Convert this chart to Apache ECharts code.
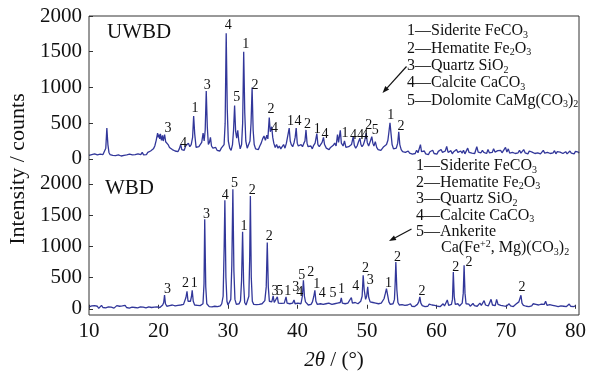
<!DOCTYPE html>
<html><head><meta charset="utf-8">
<script src="https://cdn.jsdelivr.net/npm/echarts@6/dist/echarts.min.js"></script>
<style>html,body{margin:0;padding:0;background:#fff}#c{width:589px;height:376px}</style>
</head><body><div id="c"></div>
<script>
// ---- DATA ----
const angleMin = 10, angleMax = 80, angleStep = 10;
const yTicks = [0, 500, 1000, 1500, 2000];

const uwbd = [
[10.0,50],[10.2,35],[10.4,60],[10.6,40],[10.8,70],[11.0,45],[11.2,55],[11.4,30],[11.6,65],[11.8,50],[12.0,60],[12.2,75],[12.4,150],[12.55,430],[12.7,200],[12.85,90],[13.0,60],[13.2,80],[13.4,50],[13.6,70],[13.8,45],[14.0,65],[14.2,55],[14.4,75],[14.6,40],[14.8,60],[15.0,50],[15.2,35],[15.4,55],[15.6,45],[15.8,65],[16.0,40],[16.2,55],[16.4,30],[16.6,60],[16.8,50],[17.0,70],[17.2,45],[17.4,60],[17.6,90],[17.8,55],[18.0,75],[18.2,60],[18.4,90],[18.6,70],[18.8,110],[19.0,100],[19.2,140],[19.4,180],[19.6,260],[19.8,360],[19.9,300],[20.0,340],[20.1,280],[20.2,350],[20.35,260],[20.5,330],[20.6,250],[20.8,340],[20.95,240],[21.1,220],[21.3,200],[21.5,160],[21.7,180],[21.9,130],[22.1,150],[22.3,110],[22.5,130],[22.7,100],[22.9,140],[23.1,200],[23.25,130],[23.4,150],[23.6,120],[23.8,180],[24.0,160],[24.2,220],[24.4,170],[24.6,200],[24.8,300],[24.95,600],[25.1,350],[25.3,160],[25.5,140],[25.7,170],[25.9,150],[26.1,230],[26.3,360],[26.45,250],[26.6,400],[26.75,950],[26.9,450],[27.05,200],[27.2,230],[27.35,300],[27.5,180],[27.7,150],[27.9,130],[28.1,160],[28.3,120],[28.5,140],[28.7,110],[28.9,150],[29.1,130],[29.3,200],[29.45,500],[29.6,1760],[29.75,700],[29.9,250],[30.1,150],[30.3,120],[30.5,200],[30.65,400],[30.8,745],[30.95,380],[31.1,290],[31.25,400],[31.4,250],[31.6,140],[31.8,200],[31.95,500],[32.1,1500],[32.25,650],[32.4,250],[32.6,150],[32.8,170],[33.0,250],[33.15,500],[33.3,1000],[33.45,400],[33.6,200],[33.8,140],[34.0,160],[34.2,130],[34.4,180],[34.6,220],[34.8,280],[35.0,320],[35.2,260],[35.4,330],[35.55,280],[35.75,580],[35.9,380],[36.1,450],[36.25,300],[36.4,220],[36.6,160],[36.8,200],[37.0,150],[37.2,180],[37.4,140],[37.6,170],[37.8,200],[38.0,150],[38.2,220],[38.4,200],[38.6,430],[38.75,250],[38.9,200],[39.1,170],[39.3,230],[39.45,300],[39.6,430],[39.75,220],[39.9,180],[40.1,160],[40.3,200],[40.5,170],[40.7,220],[40.85,250],[41.0,405],[41.15,220],[41.3,170],[41.5,150],[41.7,180],[41.9,140],[42.1,190],[42.3,220],[42.55,355],[42.7,200],[42.9,170],[43.1,190],[43.3,230],[43.5,300],[43.65,200],[43.9,150],[44.1,170],[44.3,130],[44.5,160],[44.7,140],[44.9,190],[45.1,220],[45.3,180],[45.5,340],[45.65,230],[45.9,400],[46.05,220],[46.3,180],[46.5,250],[46.7,160],[46.9,140],[47.1,170],[47.3,150],[47.5,200],[47.75,310],[47.9,190],[48.1,150],[48.3,180],[48.5,240],[48.7,290],[48.85,200],[49.0,170],[49.2,200],[49.4,260],[49.6,360],[49.75,230],[49.95,180],[50.2,250],[50.4,310],[50.55,220],[50.7,180],[50.9,240],[51.1,160],[51.3,130],[51.5,150],[51.7,120],[51.9,140],[52.1,170],[52.3,150],[52.5,200],[52.7,260],[52.85,380],[53.0,505],[53.15,350],[53.3,200],[53.5,140],[53.7,120],[53.9,150],[54.1,220],[54.25,380],[54.4,200],[54.6,130],[54.8,100],[55.0,120],
[55.2,90],[55.4,70],[55.6,110],[55.8,80],[56.0,100],[56.2,65],[56.4,90],[56.6,75],[56.8,120],[57.0,85],[57.2,110],[57.35,200],[57.5,100],[57.7,80],[57.9,110],[58.1,70],[58.3,95],[58.5,60],[58.7,100],[58.9,80],[59.1,120],[59.3,75],[59.5,95],[59.7,65],[59.9,105],[60.1,80],[60.3,130],[60.5,90],[60.7,70],[60.9,110],[61.1,175],[61.3,90],[61.5,80],[61.7,115],[61.9,70],[62.1,100],[62.3,85],[62.5,130],[62.7,90],[62.9,75],[63.1,110],[63.3,80],[63.5,120],[63.7,70],[63.9,95],[64.1,150],[64.3,90],[64.5,110],[64.7,80],[64.9,100],[65.1,75],[65.4,170],[65.6,95],[65.8,110],[66.0,85],[66.2,120],[66.4,90],[66.6,105],[66.8,75],[67.0,130],[67.2,85],[67.4,110],[67.6,90],[67.8,140],[68.0,95],[68.2,80],[68.4,115],[68.6,90],[68.8,120],[69.0,85],[69.2,100],[69.5,160],[69.7,95],[69.9,140],[70.1,80],[70.3,105],[70.5,90],[70.7,115],[70.9,75],[71.1,100],[71.3,85],[71.5,120],[71.7,80],[71.9,95],[72.1,130],[72.3,85],[72.5,100],[72.7,70],[72.9,110],[73.1,85],[73.3,95],[73.5,120],[73.7,75],[73.9,100],[74.1,85],[74.3,110],[74.5,70],[74.7,95],[74.9,120],[75.1,80],[75.3,100],[75.5,90],[75.7,110],[75.9,75],[76.1,95],[76.3,85],[76.5,115],[76.7,70],[76.9,100],[77.1,80],[77.3,95],[77.5,110],[77.7,75],[77.9,90],[78.1,100],[78.3,70],[78.5,85],[78.7,110],[78.9,80],[79.1,95],[79.3,70],[79.5,105],[79.7,85],[79.9,95],[80.0,80]
];

const wbd = [
[10.0,30],[10.2,10],[10.4,45],[10.6,20],[10.8,50],[11.0,25],[11.2,40],[11.4,5],[11.6,35],[11.8,55],[12.0,20],[12.2,40],[12.4,15],[12.6,45],[12.8,30],[13.0,60],[13.2,25],[13.4,40],[13.6,10],[13.8,35],[14.0,50],[14.2,20],[14.4,40],[14.6,15],[14.8,45],[15.0,30],[15.2,55],[15.4,20],[15.6,35],[15.8,10],[16.0,40],[16.2,25],[16.4,50],[16.6,20],[16.8,35],[17.0,15],[17.2,45],[17.4,30],[17.6,55],[17.8,25],[18.0,40],[18.2,15],[18.4,45],[18.6,30],[18.8,50],[19.0,20],[19.2,40],[19.4,25],[19.6,55],[19.8,30],[20.0,45],[20.2,20],[20.4,40],[20.6,60],[20.75,100],[20.87,220],[21.0,80],[21.2,40],[21.4,25],[21.6,50],[21.8,30],[22.0,60],[22.2,35],[22.4,45],[22.6,25],[22.8,55],[23.0,40],[23.2,60],[23.4,35],[23.6,70],[23.8,90],[23.95,180],[24.1,280],[24.25,120],[24.45,90],[24.6,120],[24.75,200],[24.85,295],[25.0,120],[25.2,60],[25.4,40],[25.6,55],[25.8,30],[26.0,50],[26.2,40],[26.4,80],[26.55,400],[26.65,1430],[26.8,350],[26.95,80],[27.1,50],[27.3,35],[27.5,60],[27.7,30],[27.9,50],[28.1,40],[28.3,65],[28.5,35],[28.7,55],[28.9,45],[29.1,80],[29.3,200],[29.45,1000],[29.55,1735],[29.7,500],[29.85,120],[30.0,60],[30.2,70],[30.4,150],[30.55,700],[30.7,1910],[30.85,600],[31.0,150],[31.2,70],[31.4,50],[31.6,80],[31.8,130],[31.95,450],[32.1,1230],[32.25,400],[32.4,100],[32.6,60],[32.8,80],[33.0,200],[33.12,800],[33.22,1805],[33.35,500],[33.5,120],[33.7,70],[33.9,50],[34.1,65],[34.3,45],[34.5,70],[34.7,55],[34.9,80],[35.1,100],[35.3,130],[35.5,350],[35.65,1058],[35.8,350],[35.95,120],[36.1,90],[36.3,110],[36.5,205],[36.65,100],[36.85,80],[37.1,190],[37.25,90],[37.45,60],[37.65,85],[37.85,60],[38.1,90],[38.35,190],[38.5,90],[38.7,60],[38.9,80],[39.1,60],[39.3,90],[39.5,140],[39.65,80],[39.85,60],[40.05,90],[40.3,120],[40.5,80],[40.7,200],[40.85,456],[41.0,200],[41.15,110],[41.35,80],[41.55,60],[41.75,90],[41.95,70],[42.15,110],[42.35,200],[42.5,296],[42.65,120],[42.85,70],[43.05,90],[43.3,80],[43.5,110],[43.7,70],[43.9,50],[44.1,80],[44.3,60],[44.5,90],[44.75,110],[44.95,70],[45.15,55],[45.35,80],[45.55,60],[45.75,90],[45.95,70],[46.15,100],[46.3,175],[46.45,90],[46.65,60],[46.85,80],[47.05,55],[47.25,90],[47.5,110],[47.75,180],[47.9,90],[48.1,70],[48.3,100],[48.5,130],[48.7,80],[48.9,100],[49.1,120],[49.3,200],[49.45,536],[49.6,300],[49.8,150],[49.95,200],[50.1,349],[50.25,180],[50.45,110],[50.65,80],[50.85,100],[51.05,70],[51.25,90],[51.45,60],[51.65,80],[51.85,55],[52.05,90],[52.25,110],[52.45,160],[52.65,250],[52.8,323],[52.95,230],[53.15,110],[53.35,70],[53.55,60],[53.75,80],[53.95,150],[54.05,400],[54.15,749],[54.3,300],[54.45,100],[54.65,60],[54.85,40],[55.05,65],[55.25,35],[55.45,55],[55.65,30],[55.85,60],[56.05,45],[56.25,80],[56.45,40],[56.65,60],[56.85,35],[57.05,55],[57.25,70],[57.45,110],[57.6,189],[57.75,90],[57.95,50],[58.15,70],[58.35,35],[58.55,55],[58.75,40],[58.95,75],[59.15,45],[59.35,60],[59.55,30],[59.75,55],[59.95,70],[60.15,40],[60.35,65],[60.55,35],[60.75,55],[60.95,80],[61.15,45],[61.35,60],[61.55,140],[61.75,55],[61.95,40],[62.15,70],[62.3,150],[62.42,589],[62.55,200],[62.7,70],[62.9,50],[63.1,80],[63.3,45],[63.5,65],[63.7,90],[63.85,250],[63.97,696],[64.1,250],[64.25,80],[64.45,50],[64.65,75],[64.85,40],[65.05,60],[65.25,85],[65.45,50],[65.65,70],[65.85,40],[66.05,65],[66.25,90],[66.45,55],[66.65,75],[66.85,130],[67.05,60],[67.25,80],[67.45,45],[67.65,70],[67.85,150],[68.05,60],[68.25,85],[68.45,50],[68.65,150],[68.85,70],[69.05,90],[69.25,55],[69.45,75],[69.65,45],[69.85,65],[70.05,40],[70.25,60],[70.45,80],[70.65,45],[70.85,65],[71.05,35],[71.25,55],[71.45,75],[71.65,90],[71.85,110],[72.0,140],[72.15,216],[72.3,90],[72.5,55],[72.7,70],[72.9,40],[73.1,60],[73.3,35],[73.5,65],[73.7,45],[73.9,80],[74.1,50],[74.3,70],[74.5,40],[74.7,60],[74.9,35],[75.1,75],[75.3,50],[75.5,70],[75.7,120],[75.9,55],[76.1,40],[76.3,65],[76.5,35],[76.7,55],[76.9,75],[77.1,45],[77.3,60],[77.5,35],[77.7,65],[77.9,45],[78.1,70],[78.3,40],[78.5,60],[78.7,35],[78.9,55],[79.1,75],[79.3,40],[79.5,60],[79.7,35],[79.9,55],[80.0,45]
];

const uwbdPeakLabels = [
[21.3,429,'3'],[23.5,219,'4'],[25.14,709,'1'],[26.9,1035,'3'],[29.9,1874,'4'],[31.1,863,'5'],[32.4,1604,'1'],[33.7,1035,'2'],[36.0,695,'2'],[36.5,429,'4'],[38.8,522,'1'],[39.86,522,'4'],[41.2,490,'2'],[42.6,420,'1'],[43.7,350,'4'],[46.57,359,'1'],[47.8,336,'4'],[48.8,336,'4'],[49.4,330,'4'],[49.95,476,'2'],[50.9,400,'5'],[53.1,615,'1'],[54.57,462,'2']
];
const wbdPeakLabels = [
[21.29,312,'3'],[23.9,403,'2'],[25.14,403,'1'],[26.9,1507,'3'],[29.6,1816,'4'],[30.95,2003,'5'],[32.3,1325,'1'],[33.5,1896,'2'],[35.95,1160,'2'],[36.76,280,'3'],[37.43,280,'5'],[38.6,280,'1'],[39.76,349,'3'],[40.33,259,'4'],[40.6,536,'5'],[41.9,579,'2'],[42.76,392,'1'],[43.57,243,'4'],[45.1,243,'5'],[46.33,312,'1'],[48.38,365,'4'],[49.8,643,'2'],[50.47,456,'3'],[53.1,403,'1'],[54.4,819,'2'],[57.9,285,'2'],[62.76,669,'2'],[64.67,749,'2'],[72.3,339,'2']
];

const sampleNames = ['UWBD', 'WBD'];
const legendUWBD = ['1—Siderite FeCO{s|3}', '2—Hematite Fe{s|2}O{s|3}', '3—Quartz SiO{s|2}', '4—Calcite CaCO{s|3}', '5—Dolomite CaMg(CO{s|3}){s|2}'];
const legendWBD = ['1—Siderite FeCO{s|3}', '2—Hematite Fe{s|2}O{s|3}', '3—Quartz SiO{s|2}', '4—Calcite CaCO{s|3}', '5—Ankerite', 'Ca(Fe{p|+2}, Mg)(CO{s|3}){s|2}'];
const yAxisTitle = 'Intensity / counts';
const xAxisTitle = '{i|2θ} / (°)';

// ---- CHART ----
const FONT = '"Liberation Serif", "Times New Roman", serif';
const LINE = '#32379a';
const TXT = '#111';
const chart = echarts.init(document.getElementById('c'));

function yAxisCfg(grid, max) {
  return {
    gridIndex: grid, type: 'value', min: -100, max: max,
    axisLine: {show: false},
    axisTick: {show: true, inside: true, length: 4, customValues: yTicks, lineStyle: {color: '#333'}},
    axisLabel: {customValues: yTicks, margin: 7, color: TXT, fontFamily: FONT, fontSize: 21, formatter: v => String(v)},
    splitLine: {show: false}
  };
}
function labelSeries(data, xi, yi) {
  return {
    type: 'scatter', xAxisIndex: xi, yAxisIndex: yi, data: data,
    symbolSize: 1, itemStyle: {color: 'rgba(0,0,0,0)'}, silent: true, z: 5,
    label: {show: true, position: 'inside', formatter: p => p.value[2], color: TXT, opacity: 1, textBorderWidth: 0, fontFamily: FONT, fontSize: 14}
  };
}
const rich = {
  s: {fontSize: 10, lineHeight: 10, verticalAlign: 'bottom', fontFamily: FONT, fill: TXT},
  p: {fontSize: 10, lineHeight: 10, verticalAlign: 'top', fontFamily: FONT, fill: TXT}
};
function legendText(str, x, y) {
  return {type: 'text', x: x, y: y, style: {text: str, rich: rich, font: '16px ' + FONT, fill: TXT, lineHeight: 18, textVerticalAlign: 'middle'}};
}
function arrow(x1, y1, x2, y2) {
  const dx = x2 - x1, dy = y2 - y1, L = Math.hypot(dx, dy), ux = dx / L, uy = dy / L;
  const hl = 7, hw = 2.6, bx = x2 - ux * hl, by = y2 - uy * hl;
  return [
    {type: 'line', shape: {x1: x1, y1: y1, x2: bx, y2: by}, style: {stroke: '#111', lineWidth: 1.2}},
    {type: 'polygon', shape: {points: [[x2, y2], [bx - uy * hw, by + ux * hw], [bx + uy * hw, by - ux * hw]]}, style: {fill: '#111'}}
  ];
}

const graphics = [];
graphics.push({type: 'text', x: 107, y: 32, style: {text: sampleNames[0], font: '21px ' + FONT, fill: TXT, textVerticalAlign: 'middle'}});
graphics.push({type: 'text', x: 105, y: 188, style: {text: sampleNames[1], font: '21px ' + FONT, fill: TXT, textVerticalAlign: 'middle'}});
const topYs = [31, 48.5, 66, 83, 100.5];
legendUWBD.forEach((t, i) => graphics.push(legendText(t, 407, topYs[i])));
const botYs = [166, 182.5, 199, 215.5, 231.5, 248];
legendWBD.forEach((t, i) => graphics.push(legendText(t, i === 5 ? 441 : 416, botYs[i])));
arrow(406.5, 66.5, 382.5, 93).forEach(g => graphics.push(g));
arrow(411.5, 229, 389, 241).forEach(g => graphics.push(g));
graphics.push({type: 'text', x: 18, y: 169, rotation: Math.PI / 2, style: {text: yAxisTitle, font: '22px ' + FONT, fill: TXT, textAlign: 'center', textVerticalAlign: 'middle'}});
graphics.push({type: 'text', x: 334, y: 360, style: {text: xAxisTitle, rich: {i: {fontStyle: 'italic', fontSize: 21, fontFamily: FONT, fill: TXT}}, font: '21px ' + FONT, fill: TXT, textAlign: 'center', textVerticalAlign: 'middle'}});

chart.setOption({
  animation: false,
  backgroundColor: '#fff',
  grid: [
    {left: 89, top: 16, width: 490, height: 150, show: false},
    {left: 89, top: 165, width: 490, height: 150, show: false},
    {left: 89, top: 16, width: 490, height: 299, show: true, borderColor: '#333', borderWidth: 1, backgroundColor: 'transparent', z: 3}
  ],
  xAxis: [
    {gridIndex: 0, type: 'value', min: angleMin, max: angleMax, show: false},
    {gridIndex: 1, type: 'value', min: angleMin, max: angleMax, interval: angleStep,
     axisLine: {show: false},
     axisTick: {show: true, inside: true, length: 4, lineStyle: {color: '#333'}},
     axisLabel: {margin: 6, color: TXT, fontFamily: FONT, fontSize: 21},
     splitLine: {show: false}},
    {gridIndex: 2, type: 'value', min: 0, max: 1, show: false}
  ],
  yAxis: [
    yAxisCfg(0, 2000),
    yAxisCfg(1, 2300),
    {gridIndex: 2, type: 'value', min: 0, max: 1, show: false}
  ],
  series: [
    {type: 'line', xAxisIndex: 0, yAxisIndex: 0, data: uwbd, symbol: 'none', lineStyle: {width: 1.3, color: LINE}, z: 2},
    {type: 'line', xAxisIndex: 1, yAxisIndex: 1, data: wbd, symbol: 'none', lineStyle: {width: 1.3, color: LINE}, z: 2},
    labelSeries(uwbdPeakLabels, 0, 0),
    labelSeries(wbdPeakLabels, 1, 1)
  ],
  graphic: graphics
});
</script></body></html>
